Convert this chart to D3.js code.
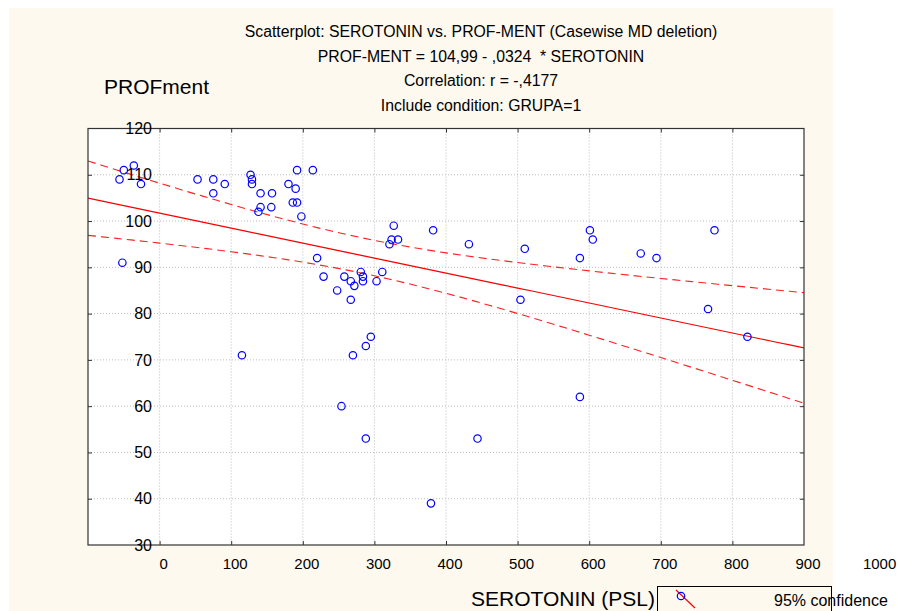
<!DOCTYPE html>
<html><head><meta charset="utf-8">
<script src="https://cdn.jsdelivr.net/npm/d3@7"></script>
<style>
body{margin:0;background:#fff}
text{font-family:"Liberation Sans",Arial,sans-serif;fill:#000}
</style>
</head><body>
<svg id="chart" width="900" height="611"></svg>
<script>
// ---- data ----
const titleLines = [
  "Scatterplot: SEROTONIN vs. PROF-MENT (Casewise MD deletion)",
  "PROF-MENT = 104,99 - ,0324  * SEROTONIN",
  "Correlation: r = -,4177",
  "Include condition: GRUPA=1"
];
const yAxisTitle = "PROFment";
const xAxisTitle = "SEROTONIN (PSL)";
const legendLabel = "95% confidence";
const xTicks = [0,100,200,300,400,500,600,700,800,900,1000];
const yTicks = [30,40,50,60,70,80,90,100,110,120];
const serotonin = [-56,-50,-36,-26,-52,53,75,75,91,127,129,129,141,141,138,157,156,180,190,186,192,192,214,198,
  220,229,248,258,267,267,272,281,284,284,303,311,115,254,270,288,295,288,321,324,333,327,382,432,510,504,
  587,601,605,672,694,775,766,821,379,444,587];
const profMent = [109,111,112,108,91,109,109,106,108,110,109,108,106,103,102,106,103,108,107,104,104,111,111,101,
  92,88,85,88,83,87,86,89,88,87,87,89,71,60,71,73,75,53,95,96,96,99,98,95,94,83,
  92,98,96,93,92,98,81,75,39,53,62];
const tCrit = 2.001; // 95%, df = n-2

// ---- layout ----
const svg = d3.select("#chart");
const W = 900, H = 611;
const plot = {l: 88, r: 804, t: 128.5, b: 545};
const x = d3.scaleLinear().domain([-100, 900]).range([plot.l, plot.r]);
const y = d3.scaleLinear().domain([30, 120]).range([plot.b, plot.t]);

svg.append("rect").attr("width", W).attr("height", H).attr("fill", "#fff");
svg.append("rect").attr("x", 9).attr("y", 8).attr("width", 824).attr("height", H - 8).attr("fill", "#FEF9EE");
svg.append("rect").attr("x", plot.l).attr("y", plot.t).attr("width", plot.r - plot.l).attr("height", plot.b - plot.t).attr("fill", "#fff");

// titles
svg.append("g").selectAll("text").data(titleLines).join("text")
  .attr("x", 481).attr("y", (d, i) => 37 + i * 24.5)
  .attr("text-anchor", "middle").attr("font-size", 15.8)
  .style("white-space", "pre").attr("xml:space", "preserve").text(d => d);

svg.append("text").attr("x", 104).attr("y", 94).attr("font-size", 21).text(yAxisTitle);
svg.append("text").attr("x", 471).attr("y", 606).attr("font-size", 21).text(xAxisTitle);

// gridlines
const gridX = xTicks.filter(v => v > -100 && v < 900);
const gridY = yTicks.filter(v => v > 30 && v < 120);
svg.append("g").selectAll("line").data(gridX).join("line")
  .attr("x1", d => x(d)).attr("x2", d => x(d)).attr("y1", plot.t).attr("y2", plot.b)
  .attr("stroke", "#bdbdbd").attr("stroke-width", 1).attr("stroke-dasharray", "1,2");
svg.append("g").selectAll("line").data(gridY).join("line")
  .attr("y1", d => y(d)).attr("y2", d => y(d)).attr("x1", plot.l).attr("x2", plot.r)
  .attr("stroke", "#bdbdbd").attr("stroke-width", 1).attr("stroke-dasharray", "1,2");

// inward ticks (axes)
const tickLen = 4;
svg.append("g").attr("transform", `translate(0,${plot.b})`)
  .call(d3.axisTop(x).tickValues(gridX).tickSize(tickLen).tickFormat(""))
  .call(g => g.select(".domain").remove()).selectAll("line").attr("stroke", "#333");
svg.append("g").attr("transform", `translate(0,${plot.t})`)
  .call(d3.axisBottom(x).tickValues(gridX).tickSize(tickLen).tickFormat(""))
  .call(g => g.select(".domain").remove()).selectAll("line").attr("stroke", "#333");
svg.append("g").attr("transform", `translate(${plot.l},0)`)
  .call(d3.axisRight(y).tickValues(gridY).tickSize(tickLen).tickFormat(""))
  .call(g => g.select(".domain").remove()).selectAll("line").attr("stroke", "#333");
svg.append("g").attr("transform", `translate(${plot.r},0)`)
  .call(d3.axisLeft(y).tickValues(gridY).tickSize(tickLen).tickFormat(""))
  .call(g => g.select(".domain").remove()).selectAll("line").attr("stroke", "#333");

// regression and confidence band computed from the data
const n = serotonin.length;
const mx = d3.mean(serotonin), my = d3.mean(profMent);
let sxx = 0, sxy = 0;
for (let i = 0; i < n; i++) { sxx += (serotonin[i] - mx) ** 2; sxy += (serotonin[i] - mx) * (profMent[i] - my); }
const slope = sxy / sxx, icpt = my - slope * mx;
let sse = 0;
for (let i = 0; i < n; i++) sse += (profMent[i] - (icpt + slope * serotonin[i])) ** 2;
const s = Math.sqrt(sse / (n - 2));
const xs = d3.range(-100, 901, 20);
const fit = v => icpt + slope * v;
const half = v => tCrit * s * Math.sqrt(1 / n + (v - mx) ** 2 / sxx);

svg.append("clipPath").attr("id", "clip").append("rect")
  .attr("x", plot.l).attr("y", plot.t).attr("width", plot.r - plot.l).attr("height", plot.b - plot.t);
const gl = svg.append("g").attr("clip-path", "url(#clip)");
const line = d3.line().x(d => x(d[0])).y(d => y(d[1]));
gl.append("path").datum(xs.map(v => [v, fit(v)])).attr("d", line)
  .attr("fill", "none").attr("stroke", "#ff0000").attr("stroke-width", 1.2);
gl.append("path").datum(xs.map(v => [v, fit(v) + half(v)])).attr("d", line)
  .attr("fill", "none").attr("stroke", "#ff2020").attr("stroke-width", 1.1).attr("stroke-dasharray", "8,5");
gl.append("path").datum(xs.map(v => [v, fit(v) - half(v)])).attr("d", line)
  .attr("fill", "none").attr("stroke", "#ff2020").attr("stroke-width", 1.1).attr("stroke-dasharray", "8,5");

// points
svg.append("g").selectAll("circle").data(d3.range(n)).join("circle")
  .attr("cx", i => x(serotonin[i])).attr("cy", i => y(profMent[i])).attr("r", 3.7)
  .attr("fill", "none").attr("stroke", "#0000ff").attr("stroke-width", 1.2);

// frame
svg.append("rect").attr("x", plot.l).attr("y", plot.t).attr("width", plot.r - plot.l).attr("height", plot.b - plot.t)
  .attr("fill", "none").attr("stroke", "#333").attr("stroke-width", 1.2);

// tick labels
svg.append("g").attr("transform", `translate(3.5,${plot.b + 10})`)
  .call(d3.axisBottom(x).tickValues(xTicks).tickSize(0).tickFormat(d3.format("d")))
  .call(g => g.select(".domain").remove())
  .selectAll("text").attr("font-size", 15).attr("font-family", "Liberation Sans, Arial, sans-serif").attr("fill", "#000");
svg.append("g").attr("transform", `translate(152,0)`)
  .call(d3.axisLeft(y).tickValues(yTicks).tickSize(0).tickPadding(0).tickFormat(d3.format("d")))
  .call(g => g.select(".domain").remove())
  .selectAll("text").attr("font-size", 16).attr("font-family", "Liberation Sans, Arial, sans-serif").attr("fill", "#000");

// legend
svg.append("line").attr("x1", 676).attr("y1", 590).attr("x2", 695).attr("y2", 608)
  .attr("stroke", "#ff0000").attr("stroke-width", 1.2);
svg.append("circle").attr("cx", 681).attr("cy", 596).attr("r", 3.7)
  .attr("fill", "none").attr("stroke", "#0000ff").attr("stroke-width", 1.2);
svg.append("text").attr("x", 774).attr("y", 606).attr("font-size", 16).text(legendLabel);
svg.append("rect").attr("x", 657.5).attr("y", 586.5).attr("width", 174).attr("height", 40)
  .attr("fill", "none").attr("stroke", "#000").attr("stroke-width", 1);
</script>
</body></html>
